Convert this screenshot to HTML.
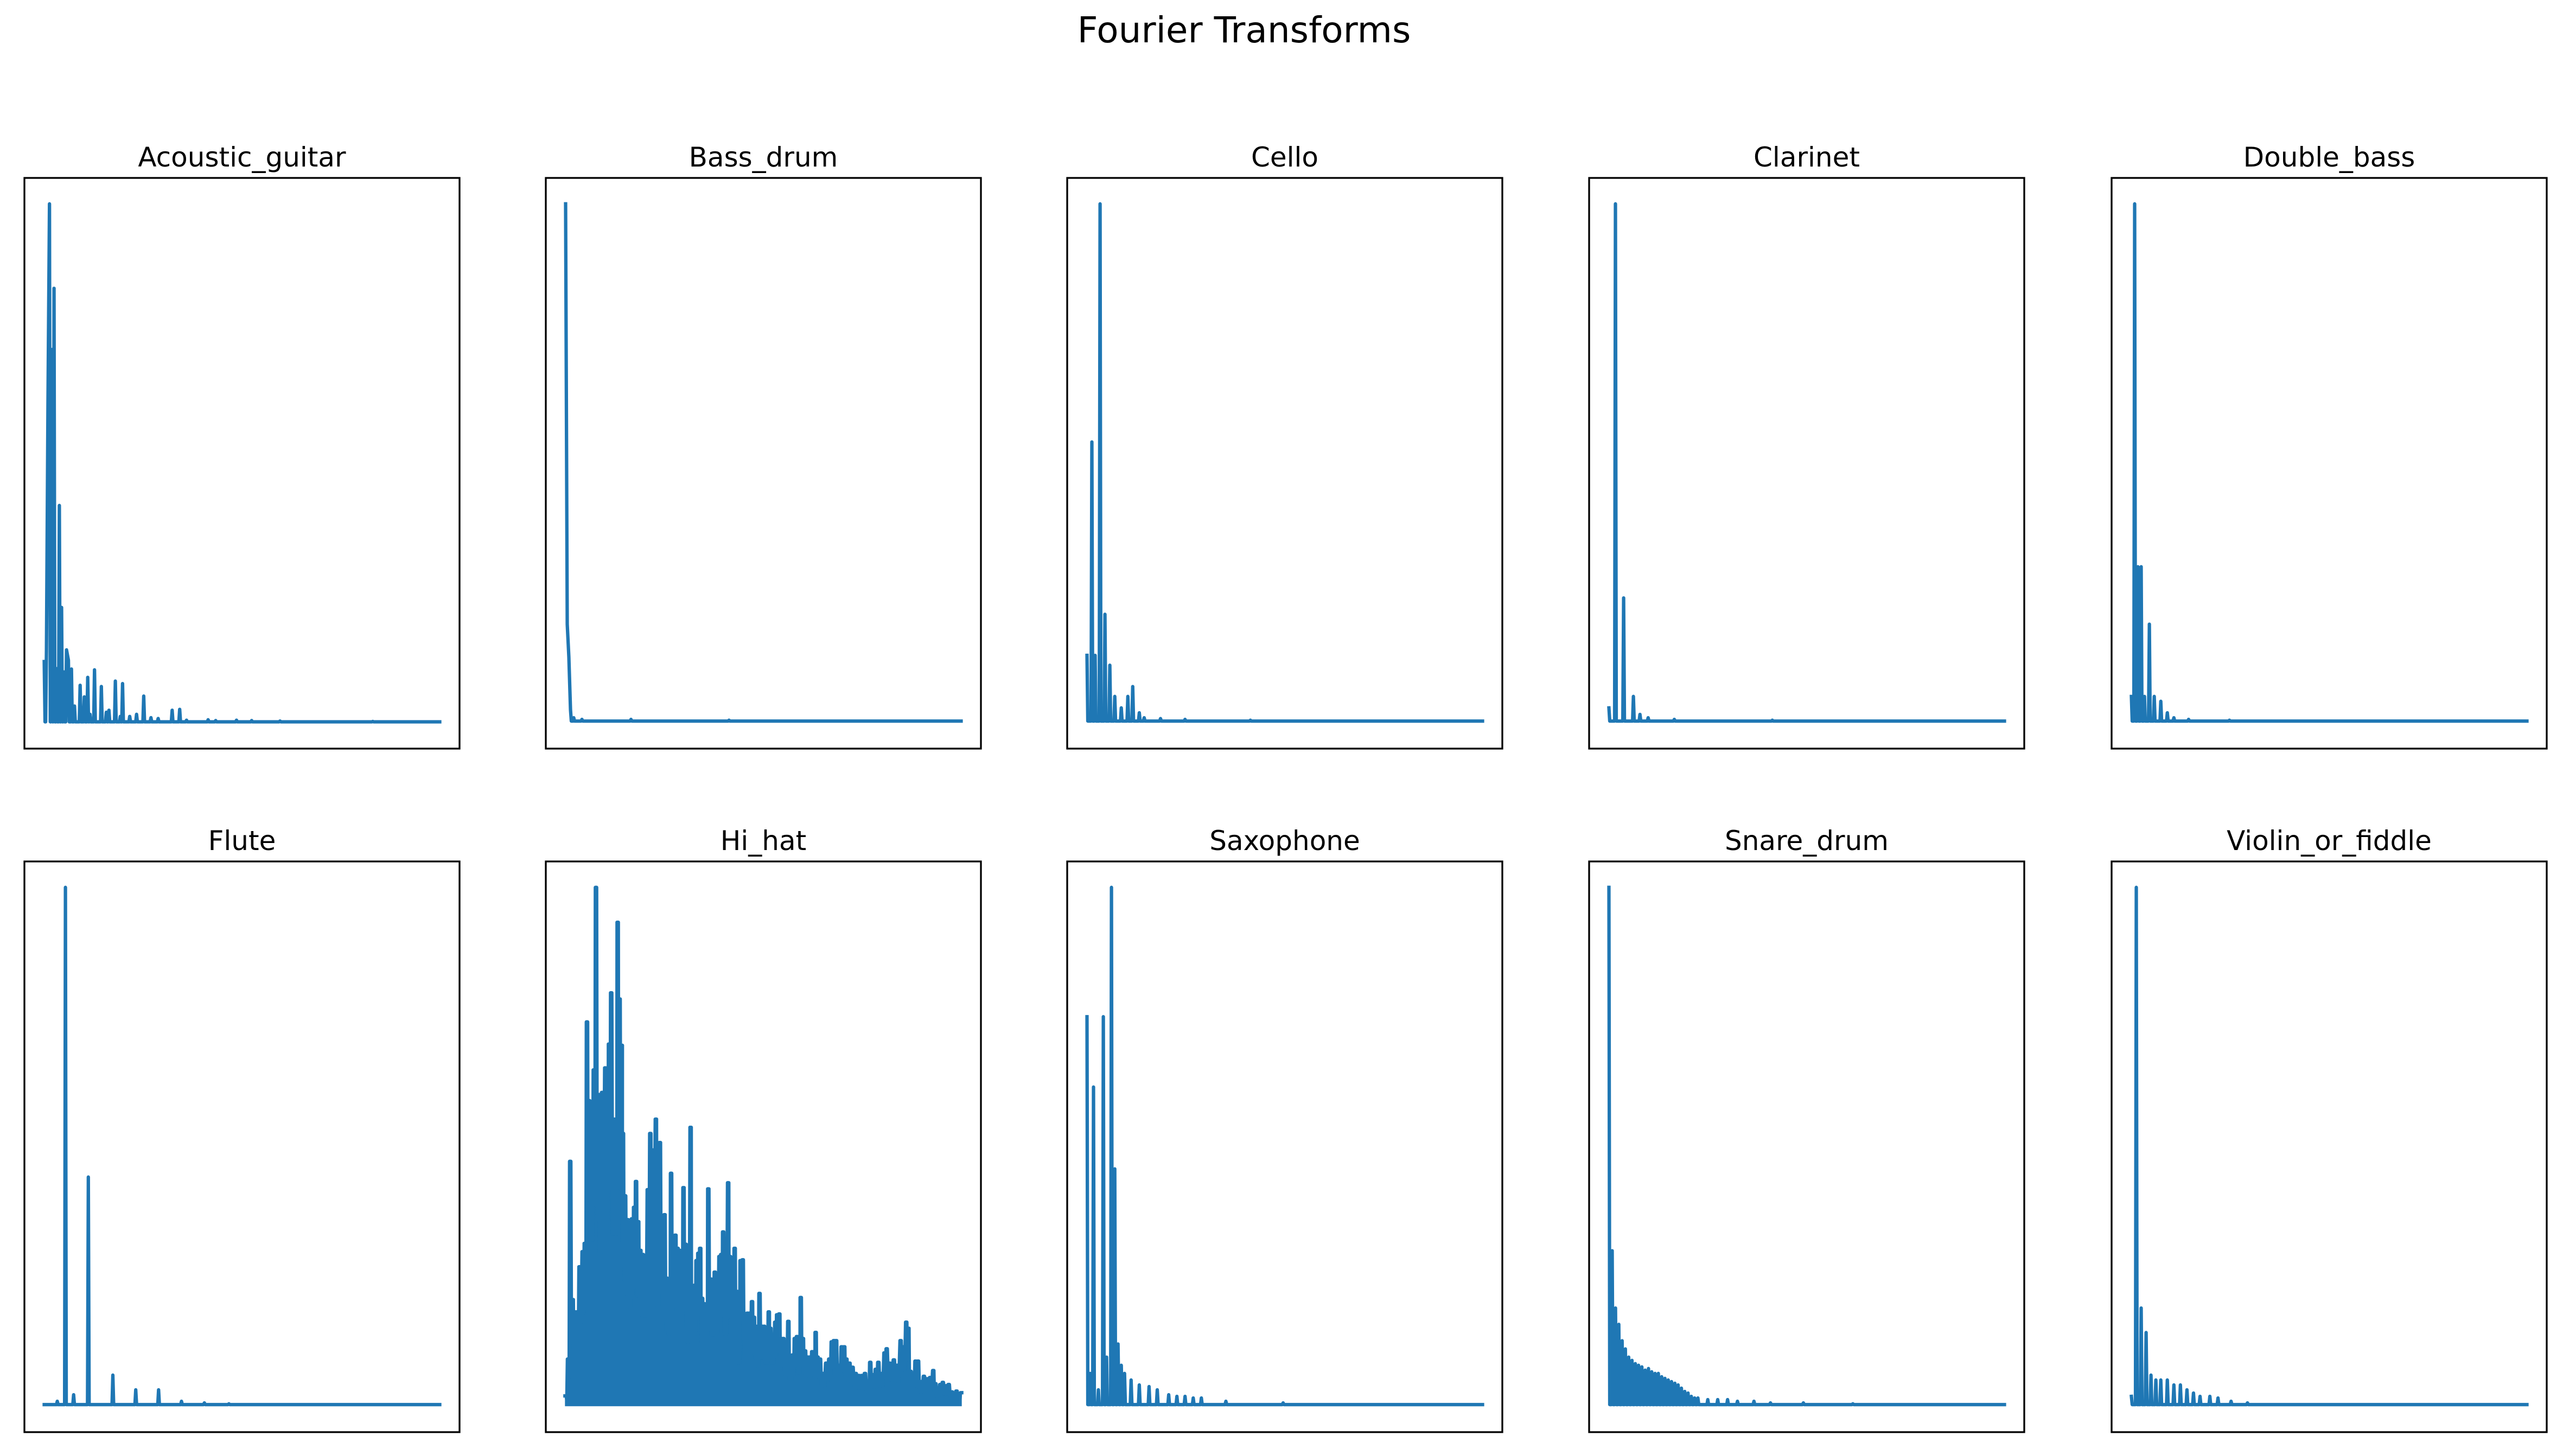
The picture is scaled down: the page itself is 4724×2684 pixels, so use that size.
<!DOCTYPE html>
<html><head><meta charset="utf-8"><style>
html,body{margin:0;padding:0;background:#fff;}
svg{display:block;}
text{font-family:"DejaVu Sans","Liberation Sans",sans-serif;fill:#000;}
</style></head>
<body>
<svg id="fig" width="4724" height="2684" viewBox="0 0 4724 2684" xmlns="http://www.w3.org/2000/svg">
<rect width="4724" height="2684" fill="#fff"/>
<text x="2293" y="78" text-anchor="middle" font-size="66">Fourier Transforms</text>
</svg>
<script>
const instrumentNames = ["Acoustic_guitar","Bass_drum","Cello","Clarinet","Double_bass","Flute","Hi_hat","Saxophone","Snare_drum","Violin_or_fiddle"];

const guitarFreq = [0,6,10,14,20,26,33,40,46,52,59,64,72,80,95,106,115,121,133,151,164,171,188,201,207,226,244,263,282,301,338,358,376,433,453,508,548,623,868,1045];
const guitarAmp  = [147,172,767,1247,897,1044,130,522,277,122,175,150,129,40,90,62,109,20,127,87,25,30,100,15,94,15,20,64,12,10,30,32,6,7,5,6,5,4,3,2];

const bassDrumFreq = [0,1,2,3,5,10,40,100,180,242];
const bassDrumAmp  = [316,60,40,8,3,2,2,1.5,1,1];

const celloFreq = [0,3,5,8,11,14,17,21,25,28,32,35,45,60,100,242];
const celloAmp  = [41,171,41,316,66,35,16,9,16,22,6,3,2.5,2,1.5,1];

const clarinetFreq = [0,4,9,15,19,24,40,100,242];
const clarinetAmp  = [9,316,76,16,5,3,2,1.5,1];

const doubleBassFreq = [0,2,4,6,8,11,14,18,22,26,35,60,242];
const doubleBassAmp  = [16,316,95,95,16,60,16,13,6,3,2,1.5,1];

const fluteFreq = [0,8,13,18,27,42,56,70,84,98,113,150,242];
const fluteAmp  = [1,3,317,7,140,19,10,10,3,2,1.5,1,1];

const hiHatFreq = [0,8,15,23,30,37,45,55,62,69,76,84,91,98,106,112,118,128,134,140,147,156,162,168,174,181,185,192,200,207,214,221,227,234,241,249,256,265,273,280,291,297,304,312,319,327,334,340,347,354,361,367,374,380,387,395,403,409,416,422,428,434,440,447,454,460,468,474,481,488,496,502,508,515,524,530,537,545,552,558,564,571,579,586,593,601,607,613,619,625,633,640,648,655,660,668,676,682,689,695,702,710,718,725,732,739,746,753,758,765,772,780,788,795,802,806,812,820,830,840,850,858,865,872,880,890,898,905,915,925,935,945,955,965,975,982,990,1000,1008,1018,1028,1035,1045,1058,1068,1080,1088,1098,1105,1112,1120,1128,1136,1145,1155,1165,1175,1185,1192,1200,1208,1216,1225,1235,1245,1252,1260,1268,1275];
const hiHatAmp  = [25,115,597,260,230,230,340,377,397,937,745,675,820,1265,760,625,765,825,765,883,1008,700,700,1180,993,880,665,513,455,403,457,485,548,450,380,370,367,528,665,625,700,410,643,463,467,312,295,568,405,417,385,380,327,533,395,262,680,245,295,355,373,385,263,250,245,530,310,290,327,300,365,370,425,295,545,365,340,385,280,175,355,357,215,227,227,255,217,195,165,275,195,195,175,230,190,175,205,223,225,165,165,130,207,105,125,165,170,135,265,165,135,120,120,133,130,180,120,115,80,105,115,157,160,160,100,145,145,115,105,95,80,75,75,80,60,107,77,90,107,80,130,140,105,113,100,160,145,205,190,85,80,110,110,60,73,67,70,87,55,40,53,58,50,53,35,27,37,30,33];

const saxFreq = [0,2,4,7,10,12,15,17,19,21,23,27,32,38,43,50,55,60,65,70,85,120,242];
const saxAmp  = [238,20,195,10,238,30,317,145,38,25,20,16,13,12,10,7,6,6,5,5,3,2,1];

const snareFreq = [2,4,6,8,10,12,14,16,18,20,22,24,26,28,30,32,34,36,38,40,42,44,46,48,50,52,54,56,62,68,74,80,90,100,120,150,242];
const snareAmp  = [317,95,60,50,40,35,30,28,26,25,24,22,23,21,20,20,18,17,16,15,14,13,11,9,8,6,5,5,4,4,4,3,3,2,2,1.5,1];

const violinFreq = [0,3,6,9,12,15,18,22,26,30,34,38,42,48,53,61,71,242];
const violinAmp  = [6,317,60,45,19,16,16,16,13,13,10,8,6,6,5,3,2,1];

const seriesFreq = [guitarFreq,bassDrumFreq,celloFreq,clarinetFreq,doubleBassFreq,fluteFreq,hiHatFreq,saxFreq,snareFreq,violinFreq];
const seriesAmp  = [guitarAmp,bassDrumAmp,celloAmp,clarinetAmp,doubleBassAmp,fluteAmp,hiHatAmp,saxAmp,snareAmp,violinAmp];

const NS = "http://www.w3.org/2000/svg";
const svg = document.getElementById("fig");
const colLeft = [45,1006,1967,2929,3892];
const rowTop = [328,1588];
const boxW = 802, boxH = 1052;

function slug(s){return s.toLowerCase().replace(/_/g,'-');}

for (let i = 0; i < instrumentNames.length; i++) {
  const L = colLeft[i % 5], T = rowTop[Math.floor(i / 5)];
  const fr = seriesFreq[i], am = seriesAmp[i];
  const fmin = Math.min(...fr), fmax = Math.max(...fr);
  const amax = Math.max(...am), amin = 0;
  const xScale = v => L + boxW * ((v - fmin) / (fmax - fmin) + 0.05) / 1.1;
  const yScale = v => T + boxH - boxH * ((v - amin) / (amax - amin) + 0.05) / 1.1;

  const g = document.createElementNS(NS, "g");
  
  
  svg.appendChild(g);

  const title = document.createElementNS(NS, "text");
  
  
  title.setAttribute("x", L + boxW / 2);
  title.setAttribute("y", T - 21);
  title.setAttribute("text-anchor", "middle");
  title.setAttribute("font-size", "50");
  title.textContent = instrumentNames[i];
  g.appendChild(title);

  const aFloor = Math.min(...am);
  const yFloor = yScale(aFloor);
  const y0 = yScale(0);
  const avgSpacing = (xScale(fmax) - xScale(fmin)) / fr.length;
  const dense = avgSpacing < 6;
  const pts = [];
  if (dense) {
    for (let k = 0; k < fr.length; k++) {
      const x = xScale(fr[k]), y = yScale(am[k]);
      pts.push([x - 1.2, y]);
      pts.push([x + 1.2, y]);
      if (k < fr.length - 1) {
        const xm = (x + xScale(fr[k+1])) / 2;
        pts.push([xm, yScale(0.6 * Math.min(am[k], am[k+1]))]);
      }
    }
    const area = document.createElementNS(NS, "polygon");
    
    
    const poly = pts.concat([[xScale(fr[fr.length-1]) + 1.2, y0], [xScale(fr[0]) - 1.2, y0]]);
    area.setAttribute("points", poly.map(p => p[0].toFixed(1) + "," + p[1].toFixed(1)).join(" "));
    area.setAttribute("fill", "#1f77b4");
    g.appendChild(area);
  } else {
    for (let k = 0; k < fr.length; k++) {
      const x = xScale(fr[k]), y = yScale(am[k]);
      const prevX = k > 0 ? xScale(fr[k-1]) : -1e9;
      if (k > 0 && x - prevX > 4) pts.push([x - 1.5, yFloor]);
      pts.push([x, y]);
      const nextX = k < fr.length - 1 ? xScale(fr[k+1]) : 1e9;
      if (k < fr.length - 1 && nextX - x > 4) pts.push([x + 1.5, yFloor]);
    }
  }
  const line = document.createElementNS(NS, "polyline");
  
  
  line.setAttribute("points", pts.map(p => p[0].toFixed(1) + "," + p[1].toFixed(1)).join(" "));
  line.setAttribute("fill", "none");
  line.setAttribute("stroke", "#1f77b4");
  line.setAttribute("stroke-width", "6.25");
  line.setAttribute("stroke-linejoin", "round");
  line.setAttribute("stroke-linecap", "square");
  g.appendChild(line);

  const box = document.createElementNS(NS, "rect");
  
  
  box.setAttribute("x", L);
  box.setAttribute("y", T);
  box.setAttribute("width", boxW);
  box.setAttribute("height", boxH);
  box.setAttribute("fill", "none");
  box.setAttribute("stroke", "#000");
  box.setAttribute("stroke-width", "3.3");
  g.appendChild(box);
}
</script>
</body></html>
